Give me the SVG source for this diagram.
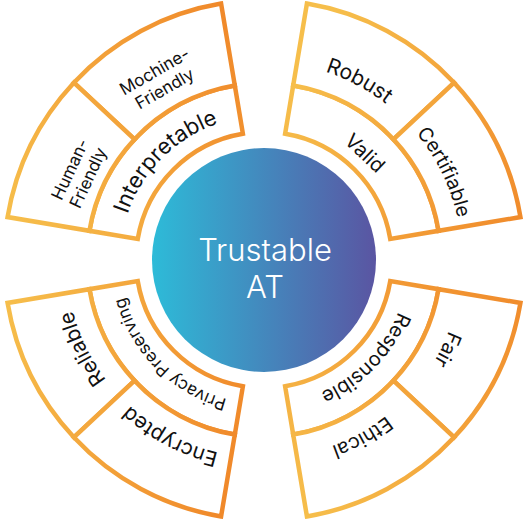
<svg xmlns="http://www.w3.org/2000/svg" width="530" height="523" viewBox="0 0 530 523">
<style>
.seg{fill:#ffffff;stroke-width:4.5;stroke-linejoin:miter}
.tl{stroke:url(#gTL)}
.tr{stroke:url(#gTR)}
.bl{stroke:url(#gBL)}
.br{stroke:url(#gBR)}
.lbl{font-family:Inter,"Open Sans",sans-serif;fill:#111111;font-weight:400}
.ctr{font-family:Inter,"Open Sans",sans-serif;fill:#ffffff;font-weight:300;font-size:31px}
</style>
<defs>
<linearGradient id="gCircle" x1="0" y1="0" x2="1" y2="0">
<stop offset="0" stop-color="#2DBBD8"/>
<stop offset="1" stop-color="#5A55A2"/>
</linearGradient>
<linearGradient id="gTL" gradientUnits="userSpaceOnUse" x1="0" y1="200" x2="250" y2="60">
<stop offset="0" stop-color="#F6BE4B"/>
<stop offset="1" stop-color="#F0892A"/>
</linearGradient>
<linearGradient id="gTR" gradientUnits="userSpaceOnUse" x1="290" y1="90" x2="525" y2="230">
<stop offset="0" stop-color="#F6BE4B"/>
<stop offset="1" stop-color="#F0892A"/>
</linearGradient>
<linearGradient id="gBL" gradientUnits="userSpaceOnUse" x1="0" y1="330" x2="250" y2="400">
<stop offset="0" stop-color="#F6BE4B"/>
<stop offset="1" stop-color="#F0892A"/>
</linearGradient>
<linearGradient id="gBR" gradientUnits="userSpaceOnUse" x1="290" y1="500" x2="525" y2="280">
<stop offset="0" stop-color="#F6BE4B"/>
<stop offset="1" stop-color="#F0892A"/>
</linearGradient>
<path id="pInterpretable" d="M120.55,247.45 A144 144 0 0 1 251.45,116.55"/>
<path id="pPrivacy" d="M251.45,403.45 A144 144 0 0 1 120.55,272.55"/>
<path id="pResponsible" d="M407.65,270.05 A144 144 0 0 1 279.05,403.21"/>
<path id="pRobust" d="M222.83,66.33 A198 198 0 0 1 447.58,185.83"/>
<path id="pCertifiable" d="M344.53,79.12 A198 198 0 0 1 456.12,307.90"/>
<path id="pReliable" d="M183.47,440.88 A198 198 0 0 1 71.88,212.10"/>
<path id="pEncrypted" d="M305.17,453.67 A198 198 0 0 1 80.42,334.17"/>
<path id="pFair" d="M456.12,212.10 A198 198 0 0 1 344.53,440.88"/>
<path id="pEthical" d="M448.85,330.96 A198 198 0 0 1 226.22,454.36"/>
</defs>

<g id="connectors"/>

<g id="node-trustable-at">
<circle cx="264" cy="260" r="112" fill="url(#gCircle)"/>
<text class="ctr" x="265" y="261" text-anchor="middle">Trustable</text>
<text class="ctr" x="265" y="298" text-anchor="middle">AT</text>
</g>

<g id="node-interpretable">
<path class="seg tl" d="M137.75,238.87 A128 128 0 0 1 242.87,133.75 L234.79,85.43 A177 177 0 0 0 89.43,230.79 Z"/>
<text class="lbl" font-size="22"><textPath href="#pInterpretable" startOffset="50%" text-anchor="middle">Interpretable</textPath></text>
</g>
<g id="node-machine-friendly">
<path class="seg tl" d="M134.55,139.29 A177 177 0 0 1 234.79,85.43 L221.09,3.57 A260 260 0 0 0 73.85,82.68 Z"/>
<text class="lbl" font-size="17" text-anchor="middle" transform="translate(159,79) rotate(-30)"><tspan x="0" y="-3">Mochine-</tspan><tspan x="0" y="17">Friendly</tspan></text>
</g>
<g id="node-human-friendly">
<path class="seg tl" d="M89.43,230.79 A177 177 0 0 1 134.55,139.29 L73.85,82.68 A260 260 0 0 0 7.56,217.09 Z"/>
<text class="lbl" font-size="17" text-anchor="middle" transform="translate(78,173) rotate(-65)"><tspan x="0" y="-3">Human-</tspan><tspan x="0" y="17">Friendly</tspan></text>
</g>

<g id="node-valid">
<path class="seg tr" d="M390.25,238.87 A128 128 0 0 0 285.13,133.75 L293.21,85.43 A177 177 0 0 1 438.57,230.79 Z"/>
<text class="lbl" font-size="20" text-anchor="middle" transform="translate(365,153) rotate(43.5)" y="7">Valid</text>
</g>
<g id="node-robust">
<path class="seg tr" d="M393.45,139.29 A177 177 0 0 0 293.21,85.43 L306.91,3.57 A260 260 0 0 1 454.15,82.68 Z"/>
<text class="lbl" font-size="21"><textPath href="#pRobust" startOffset="50%" text-anchor="middle">Robust</textPath></text>
</g>
<g id="node-certifiable">
<path class="seg tr" d="M438.57,230.79 A177 177 0 0 0 393.45,139.29 L454.15,82.68 A260 260 0 0 1 520.44,217.09 Z"/>
<text class="lbl" font-size="19.5"><textPath href="#pCertifiable" startOffset="50%" text-anchor="middle">Certifiable</textPath></text>
</g>

<g id="node-privacy-preserving">
<path class="seg bl" d="M137.75,281.13 A128 128 0 0 0 242.87,386.25 L234.79,434.57 A177 177 0 0 1 89.43,289.21 Z"/>
<text class="lbl" font-size="17"><textPath href="#pPrivacy" startOffset="50%" text-anchor="middle">Privacy Preserving</textPath></text>
</g>
<g id="node-reliable">
<path class="seg bl" d="M89.43,289.21 A177 177 0 0 0 134.55,380.71 L73.85,437.32 A260 260 0 0 1 7.56,302.91 Z"/>
<text class="lbl" font-size="21"><textPath href="#pReliable" startOffset="50%" text-anchor="middle">Reliable</textPath></text>
</g>
<g id="node-encrypted">
<path class="seg bl" d="M134.55,380.71 A177 177 0 0 0 234.79,434.57 L221.09,516.43 A260 260 0 0 1 73.85,437.32 Z"/>
<text class="lbl" font-size="21"><textPath href="#pEncrypted" startOffset="50%" text-anchor="middle">Encrypted</textPath></text>
</g>

<g id="node-responsible">
<path class="seg br" d="M390.25,281.13 A128 128 0 0 1 285.13,386.25 L293.21,434.57 A177 177 0 0 0 438.57,289.21 Z"/>
<text class="lbl" font-size="20"><textPath href="#pResponsible" startOffset="50%" text-anchor="middle">Responsible</textPath></text>
</g>
<g id="node-fair">
<path class="seg br" d="M438.57,289.21 A177 177 0 0 1 393.45,380.71 L454.15,437.32 A260 260 0 0 0 520.44,302.91 Z"/>
<text class="lbl" font-size="20"><textPath href="#pFair" startOffset="50%" text-anchor="middle">Fair</textPath></text>
</g>
<g id="node-ethical">
<path class="seg br" d="M393.45,380.71 A177 177 0 0 1 293.21,434.57 L306.91,516.43 A260 260 0 0 0 454.15,437.32 Z"/>
<text class="lbl" font-size="20"><textPath href="#pEthical" startOffset="50%" text-anchor="middle">Ethical</textPath></text>
</g>
</svg>
